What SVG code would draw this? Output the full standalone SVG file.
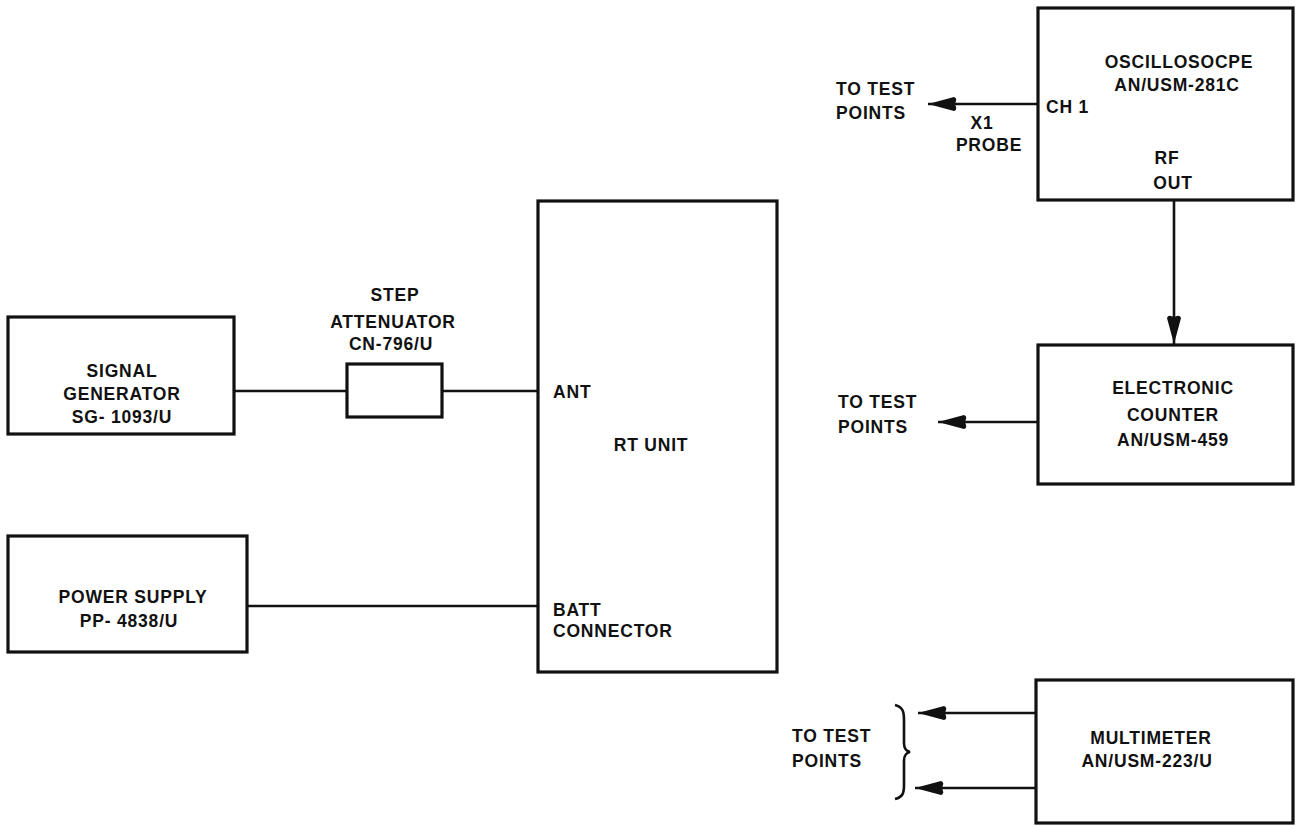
<svg xmlns="http://www.w3.org/2000/svg" width="1296" height="826" viewBox="0 0 1296 826">
<style>
.box{fill:none;stroke:#111;stroke-width:3.2}
.ln{fill:none;stroke:#111;stroke-width:2.6}
.t{font-family:"Liberation Sans",Arial,sans-serif;font-weight:bold;font-size:17.5px;letter-spacing:0.8px;fill:#111}
.c{text-anchor:middle}
</style>
<defs>
<marker id="ah" markerUnits="userSpaceOnUse" markerWidth="32" markerHeight="16" refX="29" refY="8" orient="auto" overflow="visible">
<path d="M29,8 L3,1 Q0,2 1,5 L2,8 L1,11 Q0,14 3,15 Z" fill="#111"/>
</marker>
</defs>
<rect width="1296" height="826" fill="#fff"/>

<g id="connectors">
<line class="ln" x1="234" y1="391" x2="347" y2="391"/>
<line class="ln" x1="442" y1="391" x2="538" y2="391"/>
<line class="ln" x1="247" y1="606" x2="538" y2="606"/>
<line class="ln" x1="1038" y1="104" x2="928" y2="104" marker-end="url(#ah)"/>
<line class="ln" x1="1174" y1="200" x2="1174" y2="344" marker-end="url(#ah)"/>
<line class="ln" x1="1038" y1="422" x2="938" y2="422" marker-end="url(#ah)"/>
<line class="ln" x1="1036" y1="713" x2="918" y2="713" marker-end="url(#ah)"/>
<line class="ln" x1="1036" y1="788" x2="915" y2="788" marker-end="url(#ah)"/>
</g>

<g id="signal-generator">
<rect class="box" x="8" y="317" width="226" height="117"/>
<text class="t c" x="122" y="377">SIGNAL</text>
<text class="t c" x="122" y="400">GENERATOR</text>
<text class="t c" x="122" y="423">SG- 1093/U</text>
</g>

<g id="step-attenuator">
<rect class="box" x="347" y="364" width="95" height="53"/>
<text class="t c" x="395" y="301">STEP</text>
<text class="t c" x="393" y="328">ATTENUATOR</text>
<text class="t c" x="391" y="350">CN-796/U</text>
</g>

<g id="rt-unit">
<rect class="box" x="538" y="201" width="239" height="471"/>
<text class="t" x="553" y="398">ANT</text>
<text class="t c" x="651" y="451">RT UNIT</text>
<text class="t" x="553" y="616">BATT</text>
<text class="t" x="553" y="637">CONNECTOR</text>
</g>

<g id="power-supply">
<rect class="box" x="8" y="536" width="239" height="116"/>
<text class="t c" x="133" y="603">POWER SUPPLY</text>
<text class="t c" x="129" y="627">PP- 4838/U</text>
</g>

<g id="oscilloscope">
<rect class="box" x="1038" y="8" width="255" height="192"/>
<text class="t c" x="1179" y="68">OSCILLOSOCPE</text>
<text class="t c" x="1177" y="91">AN/USM-281C</text>
<text class="t" x="1046" y="113">CH 1</text>
<text class="t c" x="1167" y="164">RF</text>
<text class="t c" x="1173" y="189">OUT</text>
<text class="t" x="836" y="95">TO TEST</text>
<text class="t" x="836" y="119">POINTS</text>
<text class="t c" x="982" y="129">X1</text>
<text class="t c" x="989" y="151">PROBE</text>
</g>

<g id="electronic-counter">
<rect class="box" x="1038" y="345" width="255" height="139"/>
<text class="t c" x="1173" y="394">ELECTRONIC</text>
<text class="t c" x="1173" y="421">COUNTER</text>
<text class="t c" x="1173" y="446">AN/USM-459</text>
<text class="t" x="838" y="408">TO TEST</text>
<text class="t" x="838" y="433">POINTS</text>
</g>

<g id="multimeter">
<rect class="box" x="1036" y="680" width="257" height="143"/>
<text class="t c" x="1151" y="744">MULTIMETER</text>
<text class="t c" x="1147" y="767">AN/USM-223/U</text>
<text class="t" x="792" y="742">TO TEST</text>
<text class="t" x="792" y="767">POINTS</text>
<path class="ln" stroke-width="2" d="M895,705 C903,707 904,712 904,720 L904,743 C904,749 906,751 910,752 C906,753 904,755 904,761 L904,785 C904,793 903,797 895,799"/>
</g>
</svg>
